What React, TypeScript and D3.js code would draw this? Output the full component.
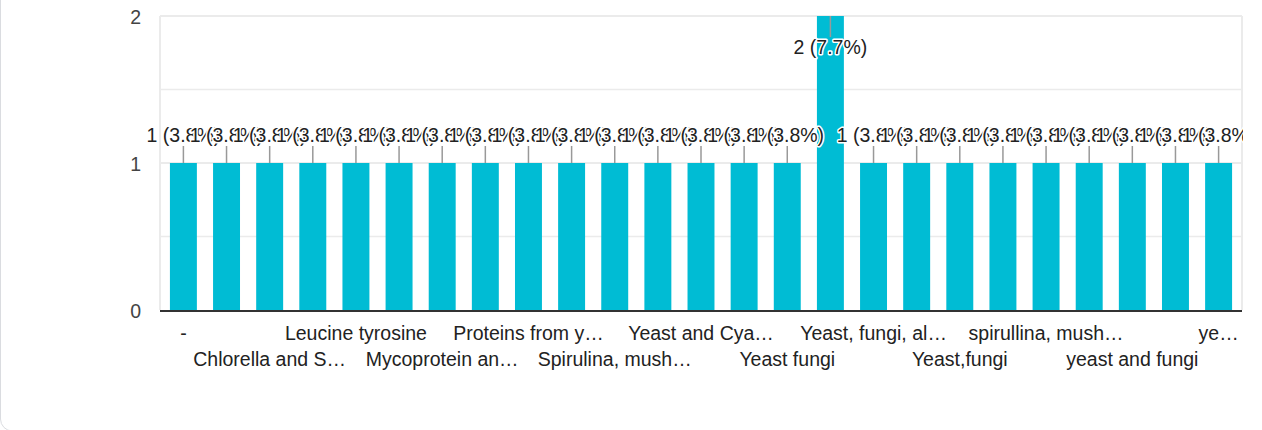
import React from "react";
import { scaleBand, scaleLinear, range } from "d3";

// answers, in the order the form lists them (odd ones have no visible tick label)
const categories = [
  "-",
  "Algae",
  "Chlorella and S…",
  "Insects",
  "Leucine tyrosine",
  "Microalgae",
  "Mycoprotein an…",
  "Plant proteins",
  "Proteins from y…",
  "Single cell protein",
  "Spirulina, mush…",
  "Yeast",
  "Yeast and Cya…",
  "Yeast extract",
  "Yeast fungi",
  "Yeast, algae",
  "Yeast, fungi, al…",
  "Yeast, mushrooms",
  "Yeast,fungi",
  "algae",
  "spirullina, mush…",
  "spirulina",
  "yeast and fungi",
  "yeast, algae",
  "ye…",
];
const counts = [1, 1, 1, 1, 1, 1, 1, 1, 1, 1, 1, 1, 1, 1, 1, 2, 1, 1, 1, 1, 1, 1, 1, 1, 1];
const total = 26;
const yTicks = [0, 1, 2];
const yGrid = [0.5, 1, 1.5, 2];

const W = 1262;
const H = 430;
const left = 160;
const right = 1242;
const top = 16;
const bottom = 310;
const font = "'Liberation Sans', Arial, sans-serif";
const fs = 19.5;

export default function App() {
  const x = scaleBand<number>()
    .domain(range(categories.length))
    .range([left, right])
    .paddingInner(0.375)
    .paddingOuter(0.23);
  const y = scaleLinear().domain([0, 2]).range([bottom, top]);
  const bw = x.bandwidth();

  const pct = (v: number) => ((v / total) * 100).toFixed(1) + "%";

  return (
    <div style={{ position: "absolute", left: 0, top: 0 }}>
      <svg width={W} height={H} style={{ display: "block", background: "#fff" }}>
        <defs>
          <clipPath id="annClip">
            <rect x={0} y={0} width={right + 1} height={H} />
          </clipPath>
        </defs>
        <rect x={0.5} y={-30} width={1275} height={461} rx={12} fill="#fff" stroke="#dadce0" />

        {/* grid */}
        {yGrid.map((t) => (
          <line key={t} x1={left} x2={right} y1={y(t)} y2={y(t)} stroke="#ebebeb" strokeWidth={t % 1 ? 1.5 : 2} />
        ))}
        <line x1={left} x2={left} y1={top} y2={bottom} stroke="#ebebeb" strokeWidth={2} />
        <line x1={right} x2={right} y1={top} y2={bottom} stroke="#ebebeb" strokeWidth={2} />

        {/* y labels */}
        {yTicks.map((t) => (
          <text key={t} x={141} y={y(t) + 7.5} textAnchor="end" fontFamily={font} fontSize={fs} fill="#444">
            {t}
          </text>
        ))}

        {/* bars */}
        {counts.map((v, i) => (
          <rect key={i} x={x(i)} y={y(v)} width={bw} height={bottom - y(v)} fill="#00bcd4" />
        ))}

        {/* axis */}
        <line x1={left} x2={right} y1={bottom + 1} y2={bottom + 1} stroke="#333" strokeWidth={2} />

        {/* annotations */}
        <g clipPath="url(#annClip)">
          {counts.map((v, i) => {
            const cx = (x(i) as number) + bw / 2;
            const ty = y(v);
            const inside = ty - 30 < top;
            const s2 = inside ? ty + 21 : ty - 17;
            const base = inside ? ty + 38 : ty - 21;
            return (
              <g key={i}>
                <line x1={cx} x2={cx} y1={ty} y2={s2} stroke="#999" strokeWidth={1.5} />
                <text
                  x={cx}
                  y={base}
                  textAnchor="middle"
                  fontFamily={font}
                  fontSize={fs}
                  fill="#222"
                  stroke="#fff"
                  strokeWidth={3}
                  strokeLinejoin="round"
                  style={{ paintOrder: "stroke" }}
                >
                  {`${v} (${pct(v)})`}
                </text>
              </g>
            );
          })}
        </g>

        {/* x labels, every other category on alternating rows */}
        {categories.map((c, i) =>
          i % 2 === 0 ? (
            <text
              key={i}
              x={(x(i) as number) + bw / 2}
              y={(i / 2) % 2 === 0 ? 340 : 366}
              textAnchor="middle"
              fontFamily={font}
              fontSize={fs}
              fill="#222"
            >
              {c}
            </text>
          ) : null
        )}
      </svg>
    </div>
  );
}
